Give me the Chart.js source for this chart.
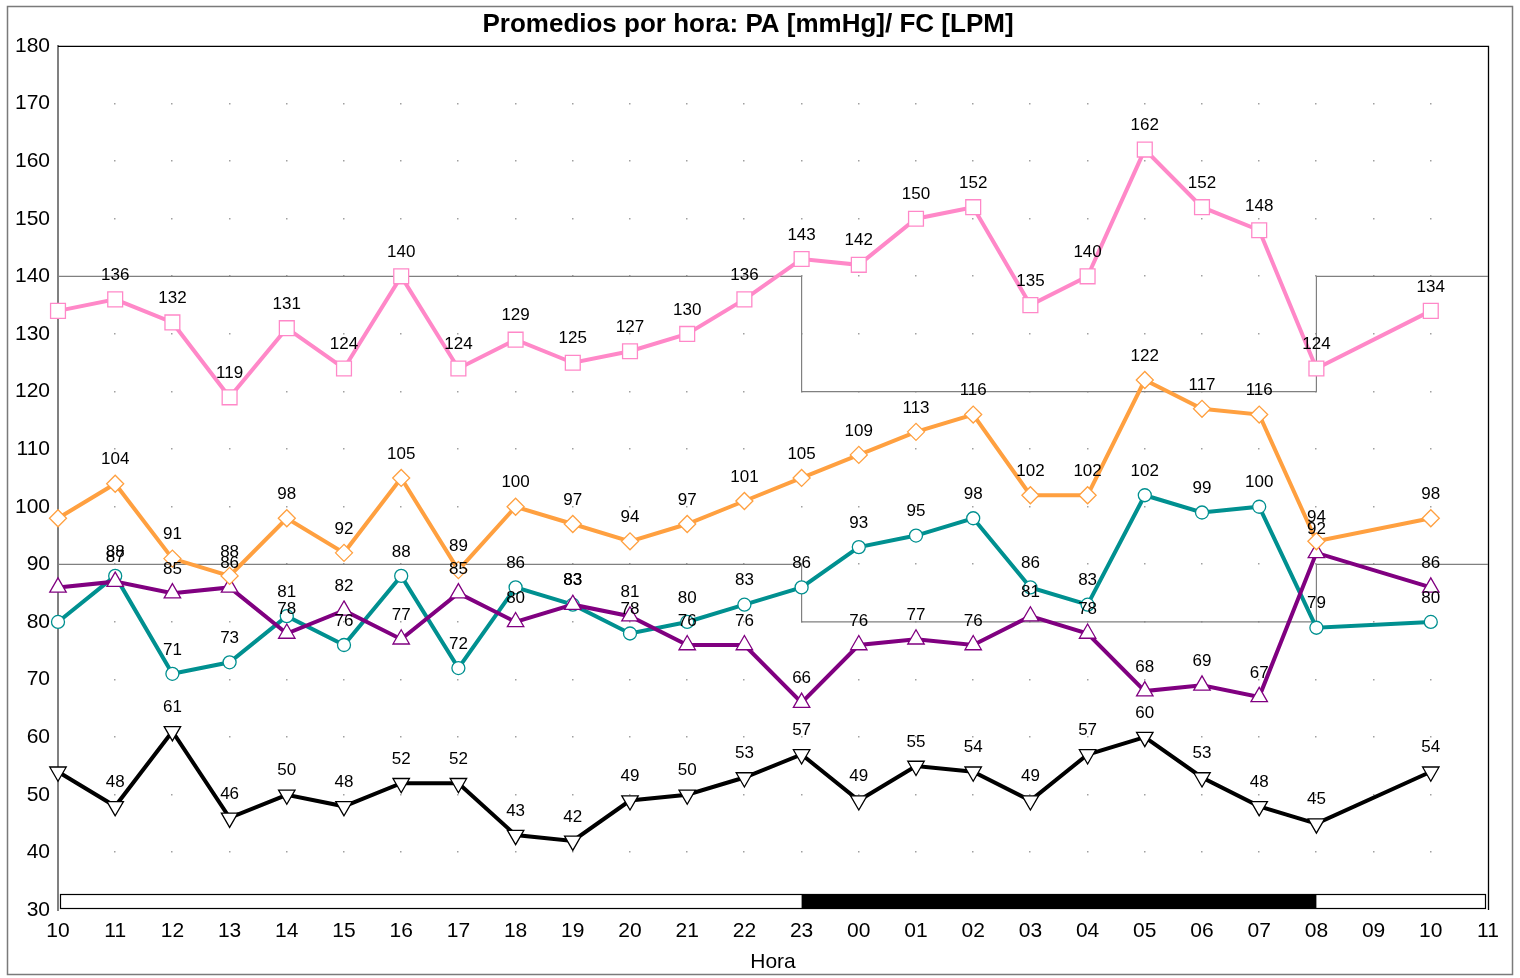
<!DOCTYPE html>
<html>
<head>
<meta charset="utf-8">
<script src="https://cdn.jsdelivr.net/npm/chart.js@4"></script>
<style>
  html, body { margin: 0; padding: 0; background: #fff; }
  #wrap { width: 1520px; height: 978px; }
</style>
</head>
<body>
<div id="wrap"><canvas id="chart" width="1520" height="978"></canvas></div>
<script>
// hour labels on the x axis
const horas = ['10','11','12','13','14','15','16','17','18','19','20','21','22','23',
               '00','01','02','03','04','05','06','07','08','09','10','11'];

// hourly averages (09 has no reading)
const sistolica  = [134,136,132,119,131,124,140,124,129,125,127,130,136,143,142,150,152,135,140,162,152,148,124,null,134];
const media      = [98,104,91,88,98,92,105,89,100,97,94,97,101,105,109,113,116,102,102,122,117,116,94,null,98];
const fc         = [86,87,85,86,78,82,77,85,80,83,81,76,76,66,76,77,76,81,78,68,69,67,92,null,86];
const diastolica = [80,88,71,73,81,76,88,72,86,83,78,80,83,86,93,95,98,86,83,102,99,100,79,null,80];
const presPulso  = [54,48,61,46,50,48,52,52,43,42,49,50,53,57,49,55,54,49,57,60,53,48,45,null,54];

// day / night limits (step lines)
const limiteSis = [140,140,140,140,140,140,140,140,140,140,140,140,140,120,120,120,120,120,120,120,120,120,140,140,140,140];
const limiteDia = [90,90,90,90,90,90,90,90,90,90,90,90,90,80,80,80,80,80,80,80,80,80,90,90,90,90];

// night period (index of 23 to index of 08)
const nocheInicio = 13;
const nocheFin = 22;

const FONT = "'Liberation Sans', Arial, sans-serif";

function serie(data, color, style, radius, rot) {
  return {
    data: data,
    borderColor: color,
    backgroundColor: '#ffffff',
    borderWidth: 4,
    pointStyle: style,
    pointRadius: radius,
    pointBorderWidth: 1.3,
    pointBorderColor: color,
    pointBackgroundColor: '#ffffff',
    pointRotation: rot || 0,
    spanGaps: true,
    tension: 0,
    etiquetas: true
  };
}

function limite(data) {
  return {
    data: data,
    borderColor: '#808080',
    borderWidth: 1.2,
    pointRadius: 0,
    stepped: 'before',
    fill: false,
    etiquetas: false
  };
}

// dots grid, frame and night bar
const decoracion = {
  id: 'decoracion',
  beforeDraw(chart) {
    const ctx = chart.ctx;
    ctx.save();
    ctx.fillStyle = '#fff';
    ctx.fillRect(0, 0, chart.width, chart.height);
    ctx.strokeStyle = '#7a7a7a';
    ctx.lineWidth = 1.5;
    ctx.strokeRect(7.5, 6.5, 1505, 968);
    ctx.restore();
  },
  beforeDatasetsDraw(chart) {
    const ctx = chart.ctx;
    const x = chart.scales.x, y = chart.scales.y;
    const a = chart.chartArea;
    ctx.save();
    ctx.fillStyle = '#a0a0a0';
    for (let i = 1; i < horas.length - 1; i++) {
      for (let v = 40; v < 180; v += 10) {
        ctx.fillRect(Math.round(x.getPixelForValue(i)) - 1, Math.round(y.getPixelForValue(v)) - 1, 1.5, 1.5);
      }
    }
    // top and right border
    ctx.strokeStyle = '#000';
    ctx.lineWidth = 1.3;
    ctx.beginPath();
    ctx.moveTo(a.left, a.top + 0.5);
    ctx.lineTo(a.right + 0.5, a.top + 0.5);
    ctx.lineTo(a.right + 0.5, a.bottom);
    ctx.stroke();
    // night bar
    const top = a.bottom - 16, h = 14;
    const x0 = x.getPixelForValue(nocheInicio), x1 = x.getPixelForValue(nocheFin);
    ctx.fillStyle = '#fff';
    ctx.fillRect(a.left + 2, top, a.right - a.left - 4, h);
    ctx.fillStyle = '#000';
    ctx.fillRect(x0, top, x1 - x0, h);
    ctx.lineWidth = 1.2;
    ctx.strokeRect(a.left + 2.5, top + 0.5, a.right - a.left - 5, h);
    ctx.restore();
  },
  afterDatasetsDraw(chart) {
    const ctx = chart.ctx;
    ctx.save();
    ctx.font = '17px ' + FONT;
    ctx.fillStyle = '#000';
    ctx.textAlign = 'center';
    ctx.textBaseline = 'middle';
    chart.data.datasets.forEach((ds, di) => {
      if (!ds.etiquetas) return;
      const meta = chart.getDatasetMeta(di);
      meta.data.forEach((pt, i) => {
        // first hour has no value label
        if (i === 0) return;
        if (ds.data[i] === null || ds.data[i] === undefined) return;
        ctx.fillText(String(ds.data[i]), pt.x, pt.y - 24);
      });
    });
    ctx.restore();
  }
};

function crear_grafico() {
  const ctx = document.getElementById('chart');
  const chart = new Chart(ctx, {
    type: 'line',
    data: {
      labels: horas,
      datasets: [
        serie(sistolica, '#ff88c8', 'rect', 10.5),
        serie(media, '#ffa040', 'rectRot', 8.5),
        serie(fc, '#800080', 'triangle', 9.5),
        serie(diastolica, '#009090', 'circle', 6.5),
        serie(presPulso, '#000000', 'triangle', 9.5, 180),
        limite(limiteSis),
        limite(limiteDia)
      ]
    },
    options: {
      responsive: false,
      animation: false,
      events: [],
      layout: { padding: { left: 8, right: 32, top: 0, bottom: 0 } },
      plugins: {
        legend: { display: false },
        tooltip: { enabled: false },
        title: {
          display: true,
          text: 'Promedios por hora: PA [mmHg]/ FC [LPM]',
          color: '#000',
          font: { family: FONT, size: 26, weight: 'bold', lineHeight: 1.15 },
          padding: { top: 10, bottom: 6 }
        }
      },
      scales: {
        x: {
          type: 'category',
          offset: false,
          grid: { display: false, drawTicks: false },
          border: { display: false },
          ticks: {
            color: '#000',
            font: { family: FONT, size: 21 },
            padding: 9,
            maxRotation: 0,
            autoSkip: false
          },
          title: {
            display: true,
            text: 'Hora',
            color: '#000',
            font: { family: FONT, size: 21 },
            padding: { top: 0, bottom: 3 }
          },
          afterFit(scale) { scale.height = 68; }
        },
        y: {
          min: 30,
          max: 180,
          grid: { display: false, drawTicks: false },
          border: { display: true, color: '#808080', width: 2 },
          ticks: {
            stepSize: 10,
            color: '#000',
            font: { family: FONT, size: 21 },
            padding: 8
          },
          afterFit(scale) { scale.width = 50; }
        }
      }
    },
    plugins: [decoracion]
  });
  return chart;
}

document.addEventListener('DOMContentLoaded', () => crear_grafico());
</script>
</body>
</html>
